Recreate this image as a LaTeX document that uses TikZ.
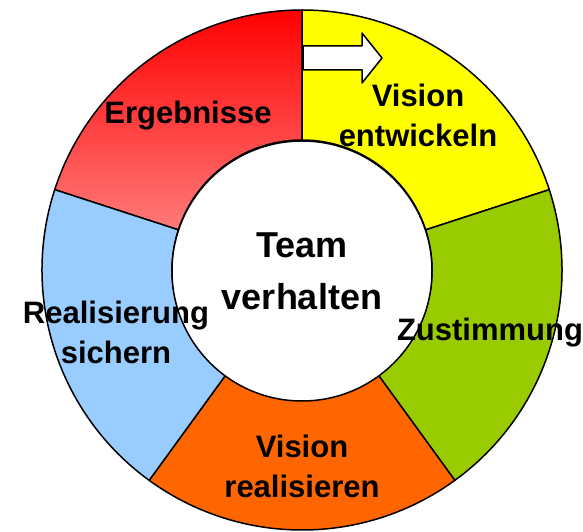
\documentclass[tikz,border=0pt]{standalone}
\usepackage{fontspec}
\setmainfont{Liberation Sans}
\usepackage{tikz}
\definecolor{rotoben}{RGB}{255,0,0}
\definecolor{rotunten}{RGB}{255,122,122}
\definecolor{gelb}{RGB}{255,255,0}
\definecolor{gruen}{RGB}{153,204,0}
\definecolor{orange}{RGB}{255,102,0}
\definecolor{blau}{RGB}{153,204,255}
\tikzstyle{segment}=[draw=black,line width=1.5pt,line join=round]
\tikzstyle{label}=[align=center,inner sep=0pt,font=\bfseries\fontsize{31}{40}\selectfont]

\begin{document}
\begin{tikzpicture}[x=1pt,y=1pt,line width=1.5pt]
  \useasboundingbox (-302,-262) rectangle (281,270);
  \draw[segment,top color=rotoben,bottom color=rotunten]
    (90:260) arc[start angle=90,end angle=162,radius=260]
    -- (162:130) arc[start angle=162,end angle=90,radius=130] -- cycle;
  \foreach \a/\b/\c in {18/90/gelb,-54/18/gruen,-126/-54/orange,162/234/blau}
    \draw[segment,fill=\c]
      (\a:260) arc[start angle=\a,end angle=\b,radius=260]
      -- (\b:130) arc[start angle=\b,end angle=\a,radius=130] -- cycle;
  \node[segment,circle,fill=white,minimum size=260pt,inner sep=0pt,
    align=center,font=\bfseries\fontsize{36}{52}\selectfont] (team) at (0,-1) {Team\\verhalten};
  \draw[segment,fill=white]
    (1,224) -- (60,224) -- (60,237) -- (80,212) -- (60,187) -- (60,200) -- (1,200) -- cycle;
  \node[label] (ergebnisse) at (-114,154) {Ergebnisse};
  \node[label] (entwickeln) at (116,155) {Vision\\entwickeln};
  \node[label] (zustimmung) at (188,-63) {Zustimmung};
  \node[label] (realisieren) at (0,-196) {Vision\\realisieren};
  \node[label] (sichern) at (-186,-62) {Realisierung\\sichern};
\end{tikzpicture}
\end{document}
